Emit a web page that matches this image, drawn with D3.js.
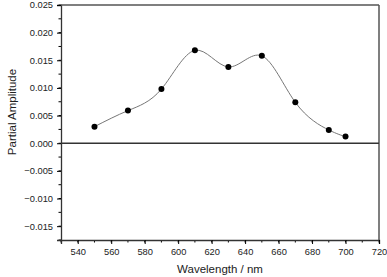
<!DOCTYPE html>
<html>
<head>
<meta charset="utf-8">
<script src="https://cdn.jsdelivr.net/npm/d3@7"></script>
<style>
  body { margin: 0; background: #fff; }
  svg { display: block; font-family: "Liberation Sans", Arial, sans-serif; }
</style>
</head>
<body>
<div id="chart"></div>
<script>
var wavelength = [550, 570, 590, 610, 630, 650, 670, 690, 700];
var amplitude = [0.0030, 0.0059, 0.0098, 0.0168, 0.0138, 0.0158, 0.0074, 0.0024, 0.0012];
var xTicks = [540, 560, 580, 600, 620, 640, 660, 680, 700, 720];
var yTicks = [0.025, 0.020, 0.015, 0.010, 0.005, 0.000, -0.005, -0.010, -0.015];

var W = 387, H = 277;
var m = {top: 5, right: 8, bottom: 37, left: 61};

var svg = d3.select('#chart').append('svg')
    .attr('width', W).attr('height', H);

var x = d3.scaleLinear().domain([530, 720]).range([m.left, W - m.right]);
var y = d3.scaleLinear().domain([-0.0175, 0.025]).range([H - m.bottom, m.top]);

// minor ticks
var xMinor = d3.range(530, 721, 10);
var yMinor = d3.range(-0.0175, 0.02501, 0.0025);

var xAxis = svg.append('g')
    .attr('transform', 'translate(0,' + (H - m.bottom) + ')');
xAxis.selectAll('line.minor').data(xMinor).enter().append('line')
    .attr('x1', function(d) { return x(d); }).attr('x2', function(d) { return x(d); })
    .attr('y1', 0).attr('y2', 2.5).attr('stroke', '#000');
xAxis.call(d3.axisBottom(x).tickValues(xTicks).tickSize(4).tickPadding(4).tickFormat(d3.format('d')));

var yAxis = svg.append('g')
    .attr('transform', 'translate(' + m.left + ',0)');
yAxis.selectAll('line.minor').data(yMinor).enter().append('line')
    .attr('y1', function(d) { return y(d); }).attr('y2', function(d) { return y(d); })
    .attr('x1', 0).attr('x2', -2.5).attr('stroke', '#000');
yAxis.call(d3.axisLeft(y).tickValues(yTicks).tickSize(4).tickPadding(4).tickFormat(d3.format('.3f')));

svg.selectAll('.domain').attr('stroke', '#333').attr('stroke-width', 1.3);
svg.selectAll('.tick text').attr('font-size', '9.3px').attr('fill', '#222')
    .attr('font-family', '"Liberation Sans", Arial, sans-serif');

// frame top & right
svg.append('line')
    .attr('x1', m.left).attr('x2', W - m.right)
    .attr('y1', m.top).attr('y2', m.top)
    .attr('stroke', '#555').attr('stroke-width', 1.5);
svg.append('line')
    .attr('x1', W - m.right).attr('x2', W - m.right)
    .attr('y1', m.top).attr('y2', H - m.bottom)
    .attr('stroke', '#555').attr('stroke-width', 1.5);

// zero line
svg.append('line')
    .attr('x1', m.left).attr('x2', W - m.right)
    .attr('y1', y(0)).attr('y2', y(0))
    .attr('stroke', '#333').attr('stroke-width', 1.3);

// curve
var pts = wavelength.map(function(d, i) { return [d, amplitude[i]]; });
var line = d3.line()
    .x(function(d) { return x(d[0]); })
    .y(function(d) { return y(d[1]); })
    .curve(d3.curveNatural);
svg.append('path').datum(pts)
    .attr('d', line)
    .attr('fill', 'none')
    .attr('stroke', '#777')
    .attr('stroke-width', 1);

svg.selectAll('circle').data(pts).enter().append('circle')
    .attr('cx', function(d) { return x(d[0]); })
    .attr('cy', function(d) { return y(d[1]); })
    .attr('r', 3)
    .attr('fill', '#000');

// axis titles
svg.append('text')
    .attr('x', (m.left + W - m.right) / 2).attr('y', 273)
    .attr('text-anchor', 'middle')
    .attr('font-size', '11.5px').attr('fill', '#222')
    .text('Wavelength / nm');
svg.append('text')
    .attr('transform', 'translate(16,112) rotate(-90)')
    .attr('text-anchor', 'middle')
    .attr('font-size', '11.5px').attr('fill', '#222')
    .text('Partial Amplitude');
</script>
</body>
</html>
